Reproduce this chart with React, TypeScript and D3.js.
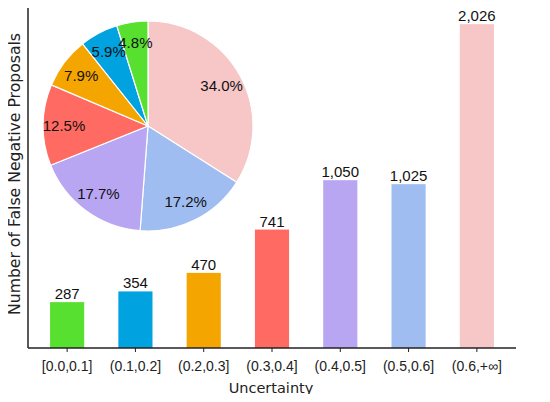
import React from "react";
import * as d3 from "d3";

const categories = ["[0.0,0.1]", "(0.1,0.2]", "(0.2,0.3]", "(0.3,0.4]", "(0.4,0.5]", "(0.5,0.6]", "(0.6,+∞]"];
const counts = [287, 354, 470, 741, 1050, 1025, 2026];
const colors = ["#57E030", "#00A3E0", "#F5A500", "#FF6B62", "#B9A6F3", "#9FBDF0", "#F7C6C7"];
const piePercent = [4.8, 5.9, 7.9, 12.5, 17.7, 17.2, 34.0];

const W = 550;
const H = 402;
const axisLeft = 28;
const axisRight = 516;
const axisBottom = 348;
const axisTop = 8;

export default function App() {
  const x = d3.scaleBand<string>().domain(categories).range([33, 511]).paddingInner(0.5).paddingOuter(0.25);
  const yMax = d3.max(counts)! * 1.05;
  const y = d3.scaleLinear().domain([0, yMax]).range([axisBottom, axisTop]);
  const fmt = d3.format(",");

  // pie: clockwise from top, starting with the last category
  const pieData = categories.map((c, i) => ({ c, v: piePercent[i], color: colors[i] })).reverse();
  const pie = d3.pie<any>().sort(null).value((d: any) => d.v);
  const arcs = pie(pieData);
  const R = 105;
  const arc = d3.arc<any>().innerRadius(0).outerRadius(R);
  const labelArc = d3.arc<any>().innerRadius(R * 0.8).outerRadius(R * 0.8);
  const cx = 148;
  const cy = 126;

  return (
    <div style={{ margin: -8 }}>
      <svg width={W} height={H} style={{ display: "block", background: "#fff" }}>
        {counts.map((v, i) => (
          <g key={categories[i]}>
            <rect x={x(categories[i])!} y={y(v)} width={x.bandwidth()} height={axisBottom - y(v)} fill={colors[i]} />
            <text
              x={x(categories[i])! + x.bandwidth() / 2}
              y={y(v) - 3}
              textAnchor="middle"
              fontFamily="Liberation Sans, Arial, sans-serif"
              fontSize={15}
              fill="#111"
            >
              {fmt(v)}
            </text>
          </g>
        ))}
        {/* axes */}
        <line x1={axisLeft} x2={axisLeft} y1={axisTop} y2={axisBottom} stroke="#222" strokeWidth={1.5} />
        <line x1={axisLeft} x2={axisRight} y1={axisBottom} y2={axisBottom} stroke="#222" strokeWidth={1.5} />
        {categories.map((c) => {
          const cxp = x(c)! + x.bandwidth() / 2;
          return (
            <g key={c}>
              <line x1={cxp} x2={cxp} y1={axisBottom} y2={axisBottom + 4} stroke="#222" strokeWidth={1} />
              <text x={cxp} y={371} textAnchor="middle" fontFamily="Liberation Sans, Arial, sans-serif" fontSize={14} fill="#222">
                {c}
              </text>
            </g>
          );
        })}
        <text x={271} y={393} textAnchor="middle" fontFamily="DejaVu Sans, sans-serif" fontSize={14.5} fill="#222">
          Uncertainty
        </text>
        <text
          transform={`translate(20,174) rotate(-90)`}
          textAnchor="middle"
          fontFamily="DejaVu Sans, sans-serif"
          fontSize={15}
          textLength={282}
          lengthAdjust="spacingAndGlyphs"
          fill="#222"
        >
          Number of False Negative Proposals
        </text>
        {/* pie */}
        <g transform={`translate(${cx},${cy})`}>
          {arcs.map((a: any) => (
            <path key={a.data.c} d={arc(a)!} fill={a.data.color} stroke="#fff" strokeWidth={1.2} />
          ))}
          {arcs.map((a: any) => {
            const [lx, ly] = labelArc.centroid(a);
            return (
              <text
                key={a.data.c}
                x={lx}
                y={ly}
                textAnchor="middle"
                dominantBaseline="central"
                fontFamily="Liberation Sans, Arial, sans-serif"
                fontSize={15}
                fill="#111"
              >
                {a.data.v.toFixed(1)}%
              </text>
            );
          })}
        </g>
      </svg>
    </div>
  );
}
